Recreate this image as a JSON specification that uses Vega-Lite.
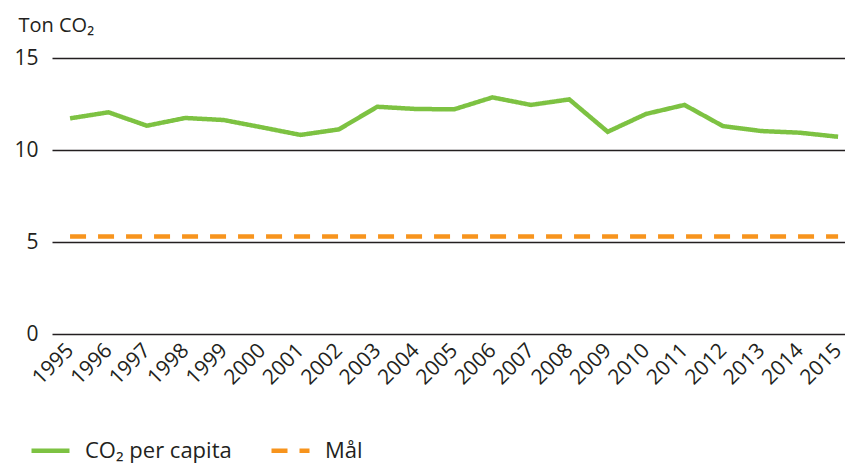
{
  "$schema": "https://vega.github.io/schema/vega-lite/v6.json",
  "width": 793,
  "height": 276,
  "padding": {"left": 52, "top": 58, "right": 0, "bottom": 129},
  "autosize": {"type": "none"},
  "background": "white",
  "config": {
    "view": {"stroke": null},
    "font": "Open Sans"
  },
  "data": {
    "values": [
      {"year": 1995, "value": 11.72, "series": "CO₂ per capita"},
      {"year": 1996, "value": 12.05, "series": "CO₂ per capita"},
      {"year": 1997, "value": 11.32, "series": "CO₂ per capita"},
      {"year": 1998, "value": 11.74, "series": "CO₂ per capita"},
      {"year": 1999, "value": 11.63, "series": "CO₂ per capita"},
      {"year": 2000, "value": 11.23, "series": "CO₂ per capita"},
      {"year": 2001, "value": 10.82, "series": "CO₂ per capita"},
      {"year": 2002, "value": 11.12, "series": "CO₂ per capita"},
      {"year": 2003, "value": 12.35, "series": "CO₂ per capita"},
      {"year": 2004, "value": 12.23, "series": "CO₂ per capita"},
      {"year": 2005, "value": 12.21, "series": "CO₂ per capita"},
      {"year": 2006, "value": 12.86, "series": "CO₂ per capita"},
      {"year": 2007, "value": 12.45, "series": "CO₂ per capita"},
      {"year": 2008, "value": 12.75, "series": "CO₂ per capita"},
      {"year": 2009, "value": 10.99, "series": "CO₂ per capita"},
      {"year": 2010, "value": 11.96, "series": "CO₂ per capita"},
      {"year": 2011, "value": 12.45, "series": "CO₂ per capita"},
      {"year": 2012, "value": 11.30, "series": "CO₂ per capita"},
      {"year": 2013, "value": 11.03, "series": "CO₂ per capita"},
      {"year": 2014, "value": 10.94, "series": "CO₂ per capita"},
      {"year": 2015, "value": 10.72, "series": "CO₂ per capita"},
      {"year": 1995, "value": 5.3, "series": "Mål"},
      {"year": 2015, "value": 5.3, "series": "Mål"}
    ]
  },
  "mark": {"type": "line", "strokeWidth": 4.5, "strokeJoin": "miter", "strokeCap": "butt"},
  "encoding": {
    "x": {
      "field": "year",
      "type": "quantitative",
      "scale": {"domain": [1994.53, 2015.18], "nice": false, "zero": false},
      "axis": {
        "values": [1995,1996,1997,1998,1999,2000,2001,2002,2003,2004,2005,2006,2007,2008,2009,2010,2011,2012,2013,2014,2015],
        "format": "d",
        "title": null,
        "grid": false,
        "domain": false,
        "ticks": false,
        "labelAngle": -45,
        "labelAlign": "right",
        "labelBaseline": "middle",
        "labelPadding": 13,
        "labelFontSize": 21,
        "labelColor": "#231f20",
        "labelFlush": false,
        "labelOverlap": false
      }
    },
    "y": {
      "field": "value",
      "type": "quantitative",
      "scale": {"domain": [0, 15], "nice": false},
      "axis": {
        "values": [0, 5, 10, 15],
        "title": "Ton CO₂",
        "titleAngle": 0,
        "titleAlign": "left",
        "titleBaseline": "alphabetic",
        "titleX": -34,
        "titleY": -27,
        "titleFontSize": 20,
        "titleFontWeight": "normal",
        "titleColor": "#231f20",
        "grid": true,
        "gridColor": "#231f20",
        "gridWidth": 1.5,
        "domain": false,
        "ticks": false,
        "labelPadding": 14,
        "labelFontSize": 21,
        "labelColor": "#231f20"
      }
    },
    "color": {
      "field": "series",
      "type": "nominal",
      "scale": {"domain": ["CO₂ per capita", "Mål"], "range": ["#7dc242", "#f7941d"]},
      "legend": {
        "orient": "none",
        "legendX": -23,
        "legendY": 371,
        "direction": "horizontal",
        "title": null,
        "symbolType": "stroke",
        "symbolSize": 1444,
        "symbolStrokeWidth": 4.5,
        "labelFontSize": 22,
        "labelColor": "#231f20",
        "labelOffset": 13,
        "columnPadding": 30,
        "symbolOffset": 0,
        "encode": {
          "symbols": {
            "update": {
              "strokeDash": {"signal": "datum.value === 'Mål' ? [8, 7] : [1, 0]"}
            }
          }
        }
      }
    },
    "strokeDash": {
      "field": "series",
      "type": "nominal",
      "scale": {"domain": ["CO₂ per capita", "Mål"], "range": [[1, 0], [16, 12]]},
      "legend": null
    }
  }
}
